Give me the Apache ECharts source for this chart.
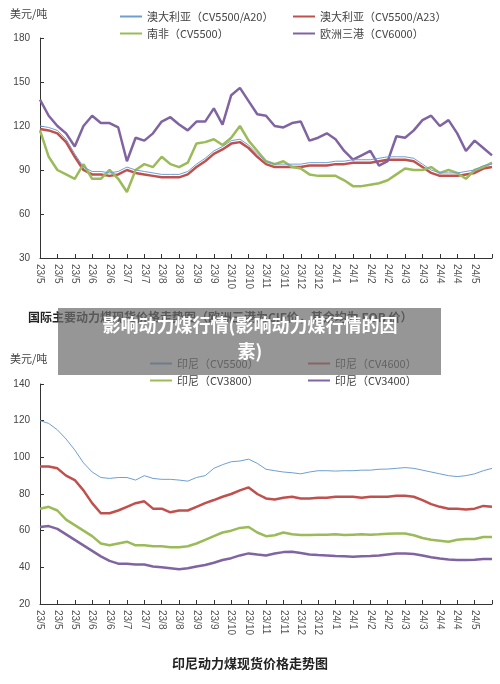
<!DOCTYPE html><html><head><meta charset="utf-8"><script src="https://cdn.jsdelivr.net/npm/echarts@6/dist/echarts.min.js"></script>
<style>body{margin:0}#c{width:500px;height:684px}</style></head><body><div id="c"></div><script>
const monthLabels=['23/5','23/5','23/5','23/6','23/6','23/7','23/7','23/8','23/8','23/9','23/9','23/10','23/10','23/11','23/11','23/12','23/12','24/1','24/1','24/2','24/2','24/3','24/3','24/4','24/4','24/5'];
const categories=[];for(let i=0;i<53;i++){categories.push(i%2===0&&i/2<monthLabels.length?monthLabels[i/2]:'');}
const aus20=[120,119,117,111,101,92,89,89,88,89,92,90,89,88,87,87,87,89,94,98,103,106,110,111,107,101,96,94,94,94,94,95,95,95,96,96,97,97,97,98,99,99,99,98,94,90,88,88,88,89,90,93,94];
const aus23=[118,117,115,109,99,90,87,87,86,87,90,88,87,86,85,85,85,87,92,96,101,104,108,109,105,99,94,92,92,92,92,93,93,93,94,94,95,95,95,96,97,97,97,96,92,88,86,86,86,87,88,91,92];
const southAfrica=[117,99,90,87,84,94,84,84,90,84,75,90,94,92,99,94,92,95,108,109,111,107,112,120,110,103,96,94,96,92,91,87,86,86,86,83,79,79,80,81,83,87,91,90,90,92,88,90,88,84,90,92,95];
const europe=[138,127,120,115,106,120,127,122,122,119,96,112,110,115,123,126,121,117,123,123,132,121,141,146,137,128,127,120,119,122,123,110,112,115,111,103,97,100,103,93,96,113,112,117,124,127,120,124,115,103,110,105,100];
const indo5500=[120,118.5,115,110,104,97,92,89,88.5,89,89,87.6,90,88.5,88,88,87.6,87,89,90,94,96,97.6,98,99,96.7,93.5,92.7,92,91.6,91,92,92.7,92.7,92.5,92.7,92.7,93,93,93.5,93.6,94,94.4,94,93,92,91,90,89.5,90,91,92.7,94];
const indo4600=[95,95,94,90,87.6,82,75,69.5,69.5,71,73,75,76,72,72,70,71,71,73,75,76.7,78.5,80,82,83.6,80,77.6,77,78,78.5,77.6,77.6,78,78,78.5,78.5,78.5,78,78.5,78.5,78.5,79,79,78.5,76.7,74.5,73,72,72,71.6,72,73.5,73];
const indo3800=[72,73,71,66,63,60,57,53,52,53,54,52,52,51.5,51.5,51,51,51.5,53,55,57,59,60,61.5,62,59,57,57.5,59,58,57.6,57.6,57.8,57.8,58,57.6,57.8,58,57.8,58,58.3,58.5,58.5,57.5,56,55,54.5,54,55,55.5,55.5,56.5,56.5];
const indo3400=[62,62.5,61,58,55,52,49,46,43.5,42,42,41.5,41.5,40.5,40,39.5,39,39.5,40.5,41.3,42.5,44,45,46.5,47.6,47,46.5,47.5,48.3,48.5,47.8,47,46.7,46.5,46.2,46,45.8,46,46.2,46.5,47,47.5,47.6,47.3,46.5,45.5,44.8,44.3,44,44,44.2,44.6,44.6];
const names=['澳大利亚（CV5500/A20）','澳大利亚（CV5500/A23）','南非（CV5500）','欧洲三港（CV6000）','印尼（CV5500）','印尼（CV4600）','印尼（CV3800）','印尼（CV3400）'];
const C={blue:'#6f9fd0',red:'#c0504d',green:'#9bbb59',purple:'#8064a2'};
const cols=[C.blue,C.red,C.green,C.purple,C.blue,C.red,C.green,C.purple];
const widths=[1,2.5,2.5,2.5,1,2.5,2.5,2.5];
const datas=[aus20,aus23,southAfrica,europe,indo5500,indo4600,indo3800,indo3400];
const legendPos=[[115,6],[288,6],[115,23],[288,23],[145,353],[303,353],[145,370],[303,370]];
const xAx=g=>({type:'category',gridIndex:g,data:categories,boundaryGap:false,
 axisLine:{lineStyle:{color:'#333'}},axisTick:{inside:true,interval:1,length:4,lineStyle:{color:'#333'}},
 axisLabel:{interval:1,rotate:-90,color:'#555',fontSize:10,fontFamily:'Liberation Sans',margin:6}});
const yAx=(g,min,max,iv)=>({type:'value',gridIndex:g,min,max,interval:iv,splitLine:{show:false},
 axisLine:{show:true,lineStyle:{color:'#333'}},axisTick:{show:true,inside:true,length:4,lineStyle:{color:'#333'}},
 axisLabel:{color:'#444',fontSize:10,fontFamily:'Liberation Sans',margin:10}});
const chart=echarts.init(document.getElementById('c'));
chart.setOption({animation:false,backgroundColor:'#fff',
 grid:[{left:40,right:8,top:38,height:220},{left:40,right:8,top:384,height:220}],
 xAxis:[xAx(0),xAx(1)],yAxis:[yAx(0,30,180,30),yAx(1,20,140,20)],
 legend:names.map((n,i)=>({data:[n],left:legendPos[i][0],top:legendPos[i][1],icon:'rect',itemWidth:22,itemHeight:2,itemGap:4,
  textStyle:{color:'#444',fontSize:11,fontFamily:'Noto Sans CJK SC'}})),
 series:names.map((n,i)=>({name:n,type:'line',xAxisIndex:i<4?0:1,yAxisIndex:i<4?0:1,data:datas[i],showSymbol:false,symbol:'none',
  z:i===0||i===4?3:2,lineStyle:{color:cols[i],width:widths[i]},itemStyle:{color:cols[i]}})),
 graphic:[
  {type:'text',left:10,top:8,style:{text:'美元/吨',fill:'#444',font:'11px "Noto Sans CJK SC"'}},
  {type:'text',left:10,top:353,style:{text:'美元/吨',fill:'#444',font:'11px "Noto Sans CJK SC"'}},
  {type:'text',left:28,top:311,style:{text:'国际主要动力煤现货价格走势图（欧洲三港为CIF价，其余均为 FOB 价）',fill:'#222',font:'bold 12px "Noto Sans CJK SC"'}},
  {type:'text',left:'center',top:657,style:{text:'印尼动力煤现货价格走势图',fill:'#222',font:'bold 13px "Noto Sans CJK SC"'}},
  {type:'rect',shape:{x:58,y:308,width:383,height:67},style:{fill:'rgba(110,110,110,0.72)'},z:100},
  {type:'text',x:250,y:312,z:101,style:{text:'影响动力煤行情(影响动力煤行情的因\n素)',fill:'#fff',align:'center',verticalAlign:'top',lineHeight:26,font:'bold 18px "Noto Sans CJK SC"'}}
 ]});
</script></body></html>
